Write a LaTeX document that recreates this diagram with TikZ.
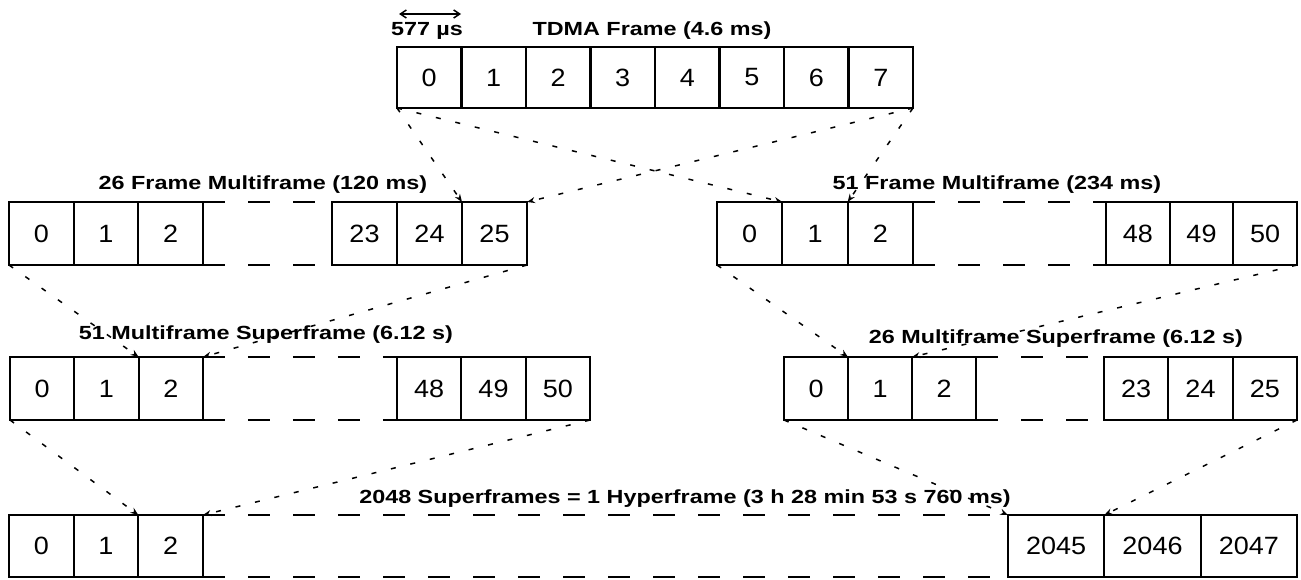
\documentclass[tikz,border=0pt]{standalone}
\usepackage{fontspec}
\usetikzlibrary{arrows.meta}
\newfontfamily\ttlfont[FakeStretch=1.23]{Liberation Sans}
\newfontfamily\digfont[FakeStretch=1.08]{Liberation Sans}
\begin{document}
\begin{tikzpicture}[x=1pt,y=-1pt,
  cell/.style={draw, line width=2.2pt, inner sep=0pt, outer sep=0pt,
    font=\digfont\fontsize{25}{28}\selectfont},
  ttl/.style={inner sep=0pt, anchor=base, font=\ttlfont\bfseries\fontsize{19}{22}\selectfont},
  gapline/.style={line width=2.2pt, dash pattern=on 22pt off 23pt},
  conn/.style={line width=1.5pt, dash pattern=on 5pt off 15pt,
    -{Stealth[length=8pt,width=6pt]}},
  meas/.style={line width=1.5pt, {Straight Barb[length=6pt,width=8pt]}-{Straight Barb[length=6pt,width=8pt]}}
]
\useasboundingbox (0,0) rectangle (1301,579);
\fill[white] (0,0) rectangle (1301,579);

% ---- Row 1: TDMA frame
\foreach \i in {0,...,7}
  \node[cell, minimum width=64.5pt, minimum height=61pt] (t\i) at ({397+64.5*\i+32.25},77.5) {\i};
\node[ttl] (ttdma) at (652,35) {TDMA Frame (4.6 ms)};
\node[ttl] (tus) at (427,35) {577 µs};
\coordinate (ua) at (399,14);
\coordinate (ub) at (461,14);
\draw[meas] (ua) -- (ub);

% ---- Row 2 left: 26 frame multiframe
\foreach \i in {0,1,2}
  \node[cell, minimum width=64.67pt, minimum height=63pt] (a\i) at ({9+64.67*\i+32.33},233.5) {\i};
\foreach \i/\t in {0/23,1/24,2/25}
  \node[cell, minimum width=65pt, minimum height=63pt] (b\t) at ({332+65*\i+32.5},233.5) {\t};
\draw[gapline] (a2.north east) -- (b23.north west);
\draw[gapline] (a2.south east) -- (b23.south west);
\node[ttl] (t26mf) at (263,189) {26 Frame Multiframe (120 ms)};

% ---- Row 2 right: 51 frame multiframe
\foreach \i in {0,1,2}
  \node[cell, minimum width=65.33pt, minimum height=63pt] (c\i) at ({717+65.33*\i+32.67},233.5) {\i};
\foreach \i/\t in {0/48,1/49,2/50}
  \node[cell, minimum width=63.67pt, minimum height=63pt] (c\t) at ({1106+63.67*\i+31.83},233.5) {\t};
\draw[gapline] (c2.north east) -- (c48.north west);
\draw[gapline] (c2.south east) -- (c48.south west);
\node[ttl] (t51mf) at (997,189) {51 Frame Multiframe (234 ms)};

% ---- Row 3 left: 51 multiframe superframe
\foreach \i in {0,1,2}
  \node[cell, minimum width=64.33pt, minimum height=63pt] (d\i) at ({10+64.33*\i+32.17},388.5) {\i};
\foreach \i/\t in {0/48,1/49,2/50}
  \node[cell, minimum width=64.33pt, minimum height=63pt] (d\t) at ({397+64.33*\i+32.17},388.5) {\t};
\draw[gapline] (d2.north east) -- (d48.north west);
\draw[gapline] (d2.south east) -- (d48.south west);
\node[ttl] (t51sf) at (266,339) {51 Multiframe Superframe (6.12 s)};

% ---- Row 3 right: 26 multiframe superframe
\foreach \i in {0,1,2}
  \node[cell, minimum width=64pt, minimum height=63pt] (e\i) at ({784+64*\i+32},388.5) {\i};
\foreach \i/\t in {0/23,1/24,2/25}
  \node[cell, minimum width=64.33pt, minimum height=63pt] (e\t) at ({1104+64.33*\i+32.17},388.5) {\t};
\draw[gapline] (e2.north east) -- (e23.north west);
\draw[gapline] (e2.south east) -- (e23.south west);
\node[ttl] (t26sf) at (1056,343) {26 Multiframe Superframe (6.12 s)};

% ---- Row 4: hyperframe
\foreach \i in {0,1,2}
  \node[cell, minimum width=64.67pt, minimum height=62pt] (f\i) at ({9+64.67*\i+32.33},546) {\i};
\foreach \i/\t in {0/2045,1/2046,2/2047}
  \node[cell, minimum width=96.33pt, minimum height=62pt] (f\t) at ({1008+96.33*\i+48.17},546) {\t};
\draw[gapline] (f2.north east) -- (f2045.north west);
\draw[gapline] (f2.south east) -- (f2045.south west);
\node[ttl] (thf) at (685,503) {2048 Superframes = 1 Hyperframe (3 h 28 min 53 s 760 ms)};

% ---- Connectors
\draw[conn] (t0.south west) -- (b25.north west);
\draw[conn] (t7.south east) -- (b25.north east);
\draw[conn] (t0.south west) -- (c1.north west);
\draw[conn] (t7.south east) -- (c1.north east);
\draw[conn] (a0.south west) -- (d2.north west);
\draw[conn] (b25.south east) -- (d2.north east);
\draw[conn] (c0.south west) -- (e1.north west);
\draw[conn] (c50.south east) -- (e1.north east);
\draw[conn] (d0.south west) -- (f2.north west);
\draw[conn] (d50.south east) -- (f2.north east);
\draw[conn] (e0.south west) -- (f2045.north west);
\draw[conn] (e25.south east) -- (f2045.north east);
\end{tikzpicture}
\end{document}
